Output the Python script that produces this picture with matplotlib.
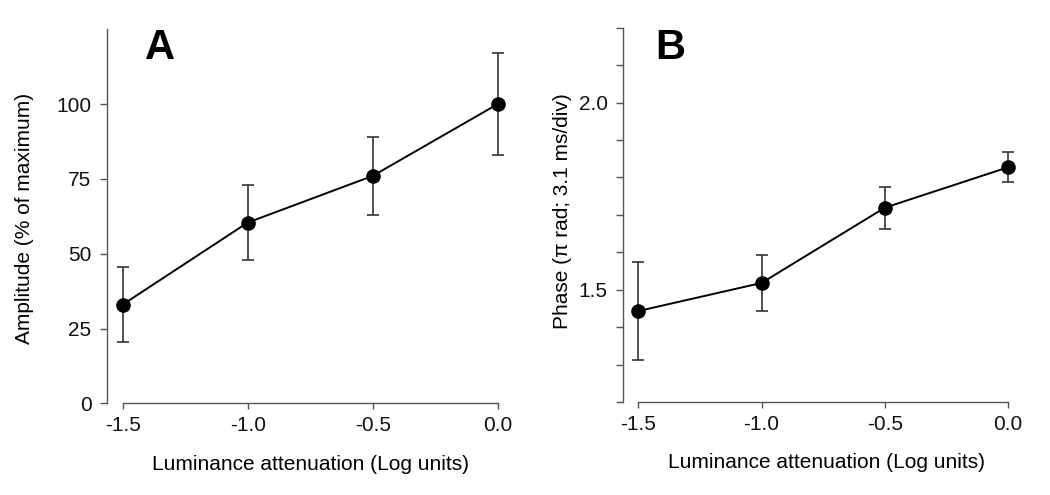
import numpy as np
import matplotlib
matplotlib.use('Agg')
from matplotlib import pyplot as plt

plt.rcParams['font.family'] = ['Liberation Sans', 'DejaVu Sans']

## luminance attenuation (log units)
atten = [-1.5, -1.0, -0.5, 0.0]

## panel A: amplitude, % of maximum
amp = [33.0, 60.4, 76.0, 100.0]
amp_err = [12.5, 12.6, 13.0, 17.0]

## panel B: phase, pi rad
phase = [1.443, 1.518, 1.719, 1.827]
phase_err = [0.132, 0.074, 0.056, 0.040]

xticks = [-1.5, -1.0, -0.5, 0.0]
xtick_labels = ['-1.5', '-1.0', '-0.5', '0.0']

W, H = 1050, 495
fig = plt.figure(figsize=(W / 100, H / 100), dpi=100)

spine_col = '#555555'
err_col = '#333333'
fs = 15


def setup(ax, xlim, ylim, ybounds):
    ax.set_xlim(*xlim)
    ax.set_ylim(*ylim)
    for s in ['top', 'right']:
        ax.spines[s].set_visible(False)
    ax.spines['bottom'].set_bounds(-1.5, 0.0)
    ax.spines['left'].set_bounds(*ybounds)
    for s in ['bottom', 'left']:
        ax.spines[s].set_color(spine_col)
        ax.spines[s].set_linewidth(1.0)
    ax.set_xticks(xticks)
    ax.set_xticklabels(xtick_labels)
    ax.tick_params(axis='both', colors=spine_col, labelcolor='#111111',
                   labelsize=fs, width=1.0)
    ax.tick_params(axis='x', pad=5, length=4)
    ax.tick_params(axis='y', pad=6, length=5)


def draw(ax, x, y, e):
    ax.errorbar(x, y, yerr=e, fmt='none', ecolor=err_col, elinewidth=1.2,
                capsize=4, capthick=1.2, clip_on=False, zorder=2)
    ax.plot(x, y, color='black', lw=1.4, marker='o', markersize=9.5,
            clip_on=False, zorder=3)


### Panel A
axA = fig.add_axes([106.7 / W, 1 - 403.3 / H, 403.5 / W, 374.0 / H])
setup(axA, (-1.564, 0.05), (0, 125), (0, 125))
axA.set_yticks([0, 25, 50, 75, 100])
draw(axA, atten, amp, amp_err)

### Panel B
axB = fig.add_axes([623.0 / W, 1 - 402.0 / H, 397.3 / W, 374.3 / H])
setup(axB, (-1.562, 0.05), (1.2, 2.2), (1.2, 2.2))
bticks = np.round(np.arange(1.2, 2.21, 0.1), 1)
axB.set_yticks(bticks)
axB.set_yticklabels(['%.1f' % v if v in (1.5, 2.0) else '' for v in bticks])
draw(axB, atten, phase, phase_err)

### labels
fig.text(310.5 / W, 1 - 465 / H, 'Luminance attenuation (Log units)',
         ha='center', va='center', fontsize=fs)
fig.text(826.5 / W, 1 - 462 / H, 'Luminance attenuation (Log units)',
         ha='center', va='center', fontsize=fs)
fig.text(25 / W, 1 - 218 / H, 'Amplitude (% of maximum)', rotation=90,
         ha='center', va='center', fontsize=fs)
fig.text(562 / W, 1 - 211 / H, 'Phase (\u03c0 rad; 3.1 ms/div)', rotation=90,
         ha='center', va='center', fontsize=fs)

fig.text(145 / W, 1 - 59 / H, 'A', fontsize=30, fontweight='bold',
         ha='left', va='baseline')
fig.text(655 / W, 1 - 59 / H, 'B', fontsize=30, fontweight='bold',
         ha='left', va='baseline')

fig.savefig('out.png', dpi=100)
